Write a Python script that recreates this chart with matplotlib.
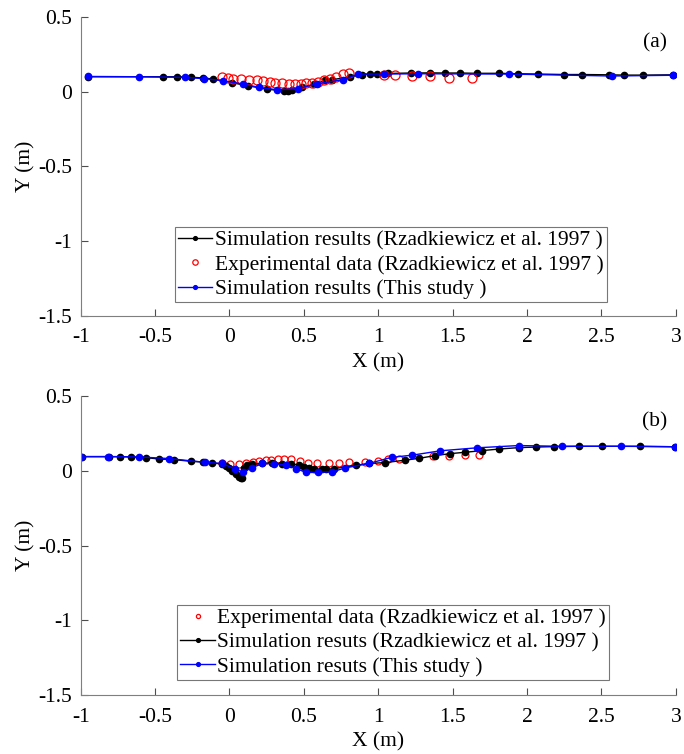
import numpy as np
import matplotlib
matplotlib.use("Agg")
import matplotlib.pyplot as plt

plt.rcParams['font.family'] = ['Liberation Serif', 'DejaVu Serif']
plt.rcParams['font.size'] = 15.5

# ---- panel (a) ----
a_sim_ref_x = [-0.95, -0.446, -0.35, -0.26, -0.18, -0.11, 0.019, 0.122, 0.255, 0.369, 0.394,
               0.42, 0.488, 0.569, 0.643, 0.688, 0.813, 0.89, 0.946, 0.99, 1.063, 1.22, 1.35,
               1.447, 1.552, 1.662, 1.81, 1.936, 2.077, 2.246, 2.372, 2.55, 2.652, 2.782, 2.98]
a_sim_ref_y = [0.10, 0.10, 0.10, 0.097, 0.092, 0.085, 0.06, 0.04, 0.017, 0.004, 0.006,
               0.013, 0.03, 0.05, 0.075, 0.08, 0.10, 0.113, 0.12, 0.121, 0.122, 0.125, 0.126,
               0.125, 0.125, 0.123, 0.123, 0.12, 0.118, 0.115, 0.115, 0.113, 0.111, 0.111, 0.113]
a_exp_x = [-0.048, -0.008, 0.024, 0.08, 0.131, 0.187, 0.226, 0.27, 0.306, 0.351, 0.40, 0.441,
           0.48, 0.517, 0.558, 0.598, 0.636, 0.675, 0.715, 0.764, 0.805,
           1.04, 1.114, 1.23, 1.35, 1.478, 1.63]
a_exp_y = [0.096, 0.09, 0.088, 0.085, 0.08, 0.075, 0.07, 0.065, 0.06, 0.055, 0.05, 0.05,
           0.05, 0.055, 0.06, 0.065, 0.075, 0.085, 0.10, 0.12, 0.125,
           0.114, 0.114, 0.107, 0.105, 0.094, 0.09]
a_sim_this_x = [-0.95, -0.605, -0.30, -0.17, -0.044, 0.09, 0.199, 0.318, 0.459, 0.59, 0.76,
                0.865, 1.04, 1.27, 1.88, 2.57, 2.98]
a_sim_this_y = [0.102, 0.10, 0.096, 0.087, 0.074, 0.051, 0.029, 0.013, 0.02, 0.053, 0.08,
                0.118, 0.118, 0.12, 0.118, 0.105, 0.11]

# ---- panel (b) ----
b_exp_x = [-0.053, 0.005, 0.064, 0.109, 0.158, 0.199, 0.244, 0.282, 0.323, 0.369, 0.416,
           0.473, 0.531, 0.587, 0.67, 0.737, 0.805, 0.912, 1.0, 1.063, 1.14, 1.37, 1.474,
           1.586, 1.68]
b_exp_y = [0.052, 0.045, 0.045, 0.054, 0.058, 0.065, 0.072, 0.076, 0.08, 0.078, 0.078,
           0.065, 0.056, 0.056, 0.05, 0.05, 0.06, 0.062, 0.069, 0.08, 0.083, 0.10, 0.103,
           0.11, 0.11]
b_sim_ref_x = [-0.99, -0.81, -0.733, -0.661, -0.558, -0.475, -0.374, -0.261, -0.178, -0.12,
               -0.053, -0.026, -0.003, 0.019, 0.042, 0.064, 0.078, 0.082, 0.098, 0.116, 0.153,
               0.221, 0.288, 0.351, 0.412, 0.468, 0.502, 0.535, 0.569, 0.625, 0.648, 0.704,
               0.85, 0.935, 1.045, 1.18, 1.276, 1.384, 1.483, 1.584, 1.696, 1.815, 1.943,
               2.057, 2.183, 2.347, 2.504, 2.758, 2.998]
b_sim_ref_y = [0.096, 0.096, 0.096, 0.094, 0.089, 0.08, 0.076, 0.065, 0.06, 0.054,
               0.047, 0.033, 0.018, 0.0, -0.022, -0.038, -0.049, -0.045, 0.023, 0.04, 0.048,
               0.05, 0.056, 0.048, 0.048, 0.04, 0.029, 0.02, 0.013, 0.012, 0.011, 0.016,
               0.038, 0.05, 0.056, 0.072, 0.085, 0.103, 0.116, 0.125, 0.136, 0.147, 0.156,
               0.16, 0.163, 0.165, 0.165, 0.165, 0.162]
b_sim_this_x = [-1.0, -0.816, -0.61, -0.407, -0.167, -0.053, 0.035, 0.091, 0.149, 0.221,
                0.302, 0.378, 0.45, 0.513, 0.596, 0.692, 0.778, 0.935, 1.09, 1.23, 1.418,
                1.665, 1.943, 2.235, 2.634, 2.998]
b_sim_this_y = [0.096, 0.096, 0.094, 0.083, 0.058, 0.05, 0.016, -0.009, 0.02, 0.05,
                0.048, 0.04, 0.016, -0.01, -0.01, -0.005, 0.02, 0.05, 0.091, 0.106, 0.135,
                0.155, 0.17, 0.165, 0.165, 0.162]

fig = plt.figure(figsize=(6.84, 7.54), dpi=100)
ax1 = fig.add_axes([0.118, 0.581, 0.870, 0.3965])
ax2 = fig.add_axes([0.118, 0.078, 0.870, 0.3965])

ms = 4.5
for ax in (ax1, ax2):
    ax.set_xlim(-1, 3)
    ax.set_ylim(-1.5, 0.5)
    ax.set_xticks([-1, -0.5, 0, 0.5, 1, 1.5, 2, 2.5, 3])
    ax.set_xticklabels(['-1', '-0.5', '0', '0.5', '1', '1.5', '2', '2.5', '3'])
    ax.set_yticks([-1.5, -1, -0.5, 0, 0.5])
    ax.set_yticklabels(['-1.5', '-1', '-0.5', '0', '0.5'])
    ax.spines['top'].set_visible(False)
    ax.spines['right'].set_visible(False)
    for s in ('left', 'bottom'):
        ax.spines[s].set_color('#7f7f7f')
        ax.spines[s].set_linewidth(0.8)
    ax.tick_params(direction='in', length=5, width=0.8, color='#4d4d4d', labelsize=15.5)
    ax.tick_params(axis='x', pad=9)
    ax.tick_params(axis='y', pad=6)
    ax.set_xlabel('X (m)', fontsize=15.5, labelpad=4)
    ax.set_ylabel('Y (m)', fontsize=15.5, labelpad=2)

ax1.plot(a_sim_ref_x, a_sim_ref_y, '-o', color='black', lw=1, ms=ms,
         label='Simulation results (Rzadkiewicz et al. 1997 )')
ax1.plot(a_exp_x, a_exp_y, 'o', mfc='none', mec='red', mew=0.9, ms=6.5,
         label='Experimental data (Rzadkiewicz et al. 1997 )')
ax1.plot(a_sim_this_x, a_sim_this_y, '-o', color='blue', lw=1, ms=ms,
         label='Simulation results (This study )')
ax1.text(0.985, 0.915, '(a)', transform=ax1.transAxes, ha='right', va='center', fontsize=15.5)

ax2.plot(b_exp_x, b_exp_y, 'o', mfc='none', mec='red', mew=0.9, ms=5,
         label='Experimental data (Rzadkiewicz et al. 1997 )')
ax2.plot(b_sim_ref_x, b_sim_ref_y, '-o', color='black', lw=1, ms=ms,
         label='Simulation resuts (Rzadkiewicz et al. 1997 )')
ax2.plot(b_sim_this_x, b_sim_this_y, '-o', color='blue', lw=1, ms=ms,
         label='Simulation resuts (This study )')
ax2.text(0.985, 0.915, '(b)', transform=ax2.transAxes, ha='right', va='center', fontsize=15.5)

for ax, anchor in ((ax1, (0.158, 0.045)), (ax2, (0.162, 0.05))):
    leg = ax.legend(loc='lower left', bbox_to_anchor=anchor, fontsize=15.5, frameon=True,
                    fancybox=False, handlelength=1.6, handletextpad=0.1, borderpad=0.15,
                    labelspacing=0.2, borderaxespad=0, markerscale=0.6)
    leg.get_frame().set_edgecolor('#555555')
    leg.get_frame().set_linewidth(0.8)

fig.savefig('out.png', dpi=100)
